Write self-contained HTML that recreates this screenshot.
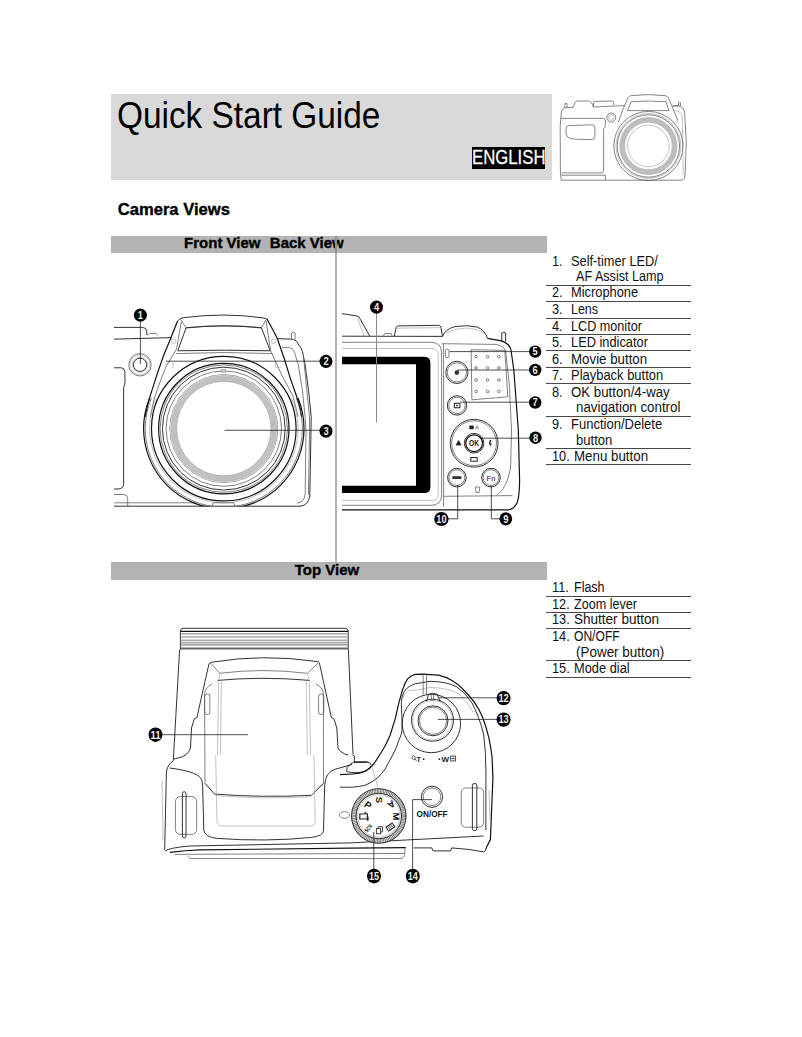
<!DOCTYPE html>
<html lang="en">
<head>
<meta charset="utf-8">
<title>Quick Start Guide</title>
<style>
html,body{margin:0;padding:0;background:#fff;}
body{width:802px;height:1037px;position:relative;overflow:hidden;font-family:"Liberation Sans",sans-serif;color:#000;}
.a{position:absolute;white-space:pre;line-height:1;}
.sx{transform-origin:0 0;}
.box{position:absolute;}
.li{position:absolute;font-size:13.8px;line-height:14px;white-space:pre;color:#111;transform:scaleX(0.925);transform-origin:0 0;}
.hr{position:absolute;left:546px;width:145px;height:1px;background:#474747;}
svg{position:absolute;left:0;top:0;overflow:visible;}
</style>
</head>
<body>
<!-- header -->
<div class="box" style="left:111px;top:94px;width:441px;height:86px;background:#d9d9d9;"></div>
<h1 id="title" class="a sx" style="margin:0;font-weight:normal;left:117.4px;top:96.8px;font-size:37px;transform:scaleX(0.902);">Quick Start Guide</h1>
<div class="box" style="left:472px;top:147px;width:73px;height:22px;background:#000;"></div>
<div id="eng" class="a sx" style="left:471.7px;top:146.5px;font-size:20.8px;color:#fff;-webkit-text-stroke:0.3px #fff;transform:scaleX(0.805);">ENGLISH</div>

<h2 id="cv" class="a" style="margin:0;left:117.7px;top:201.6px;font-size:16.6px;font-weight:bold;-webkit-text-stroke:0.35px #000;">Camera Views</h2>

<!-- section bars -->
<div class="box" style="left:111px;top:236px;width:435.5px;height:17px;background:#b3b3b3;"></div>
<div id="fv" class="a" style="left:184.1px;top:235.4px;font-size:15px;font-weight:bold;-webkit-text-stroke:0.35px #000;">Front View</div>
<div id="bv" class="a" style="left:269.8px;top:235.4px;font-size:15px;font-weight:bold;-webkit-text-stroke:0.35px #000;">Back View</div>

<div class="box" style="left:111px;top:562px;width:435.5px;height:17.5px;background:#b3b3b3;"></div>
<div id="tv" class="a" style="left:294.8px;top:561.6px;font-size:15px;font-weight:bold;-webkit-text-stroke:0.35px #000;">Top View</div>



<!-- lists -->
<div class="li" style="left:552px;top:255px;">1.</div><div class="li" style="left:570.6px;top:255px;transform:scaleX(0.9293);">Self-timer LED/</div>
<div class="li" style="left:575.8px;top:270px;transform:scaleX(0.9134);">AF Assist Lamp</div>
<div class="li" style="left:552px;top:286px;">2.</div><div class="li" style="left:570.6px;top:286px;transform:scaleX(0.9307);">Microphone</div>
<div class="li" style="left:552px;top:303px;">3.</div><div class="li" style="left:570.6px;top:303px;transform:scaleX(0.9037);">Lens</div>
<div class="li" style="left:552px;top:320px;">4.</div><div class="li" style="left:570.6px;top:320px;transform:scaleX(0.9159);">LCD monitor</div>
<div class="li" style="left:552px;top:336px;">5.</div><div class="li" style="left:570.6px;top:336px;transform:scaleX(0.9287);">LED indicator</div>
<div class="li" style="left:552px;top:353px;">6.</div><div class="li" style="left:570.6px;top:353px;transform:scaleX(0.9641);">Movie button</div>
<div class="li" style="left:552px;top:369px;">7.</div><div class="li" style="left:570.6px;top:369px;transform:scaleX(0.9385);">Playback button</div>
<div class="li" style="left:552px;top:386px;">8.</div><div class="li" style="left:570.6px;top:386px;transform:scaleX(0.9604);">OK button/4-way</div>
<div class="li" style="left:575.8px;top:401px;transform:scaleX(0.9656);">navigation control</div>
<div class="li" style="left:552px;top:418px;">9.</div><div class="li" style="left:570.6px;top:418px;transform:scaleX(0.9429);">Function/Delete</div>
<div class="li" style="left:575.8px;top:434px;transform:scaleX(0.9488);">button</div>
<div class="li" style="left:552px;top:450px;">10.</div><div class="li" style="left:573.9px;top:450px;transform:scaleX(0.9652);">Menu button</div>
<div class="li" style="left:552px;top:581px;">11.</div><div class="li" style="left:573.9px;top:581px;transform:scaleX(0.9059);">Flash</div>
<div class="li" style="left:552px;top:598px;">12.</div><div class="li" style="left:573.9px;top:598px;transform:scaleX(0.9134);">Zoom lever</div>
<div class="li" style="left:552px;top:613px;">13.</div><div class="li" style="left:573.9px;top:613px;transform:scaleX(0.9807);">Shutter button</div>
<div class="li" style="left:552px;top:630px;">14.</div><div class="li" style="left:573.9px;top:630px;transform:scaleX(0.8758);">ON/OFF</div>
<div class="li" style="left:575.8px;top:646px;transform:scaleX(0.9746);">(Power button)</div>
<div class="li" style="left:552px;top:662px;">15.</div><div class="li" style="left:573.9px;top:662px;transform:scaleX(0.9301);">Mode dial</div>
<div class="hr" style="top:285px;"></div>
<div class="hr" style="top:301px;"></div>
<div class="hr" style="top:318px;"></div>
<div class="hr" style="top:334px;"></div>
<div class="hr" style="top:350px;"></div>
<div class="hr" style="top:367px;"></div>
<div class="hr" style="top:383px;"></div>
<div class="hr" style="top:416px;"></div>
<div class="hr" style="top:448px;"></div>
<div class="hr" style="top:464px;"></div>
<div class="hr" style="top:596px;"></div>
<div class="hr" style="top:612px;"></div>
<div class="hr" style="top:628px;"></div>
<div class="hr" style="top:660px;"></div>
<div class="hr" style="top:677px;"></div>

<svg width="802" height="1037" viewBox="0 0 802 1037"><style>
.k{fill:none;stroke:#1c1c1c;stroke-width:0.9}
.kk{fill:none;stroke:#111;stroke-width:1.2}
.kt{fill:none;stroke:#222;stroke-width:0.8}
.lt{fill:none;stroke:#8a8a8a;stroke-width:1}
.g{fill:none;stroke:#555;stroke-width:0.75}
.l{fill:none;stroke:#999;stroke-width:0.6}
.h{fill:none;stroke:#505050;stroke-width:0.7}
.hl{fill:none;stroke:#909090;stroke-width:0.55}
.h2{fill:none;stroke:#9a9a9a;stroke-width:0.45}
text{font-family:"Liberation Sans",sans-serif}
</style>
<g class="hcam">
<path d="M564.5,107.6 Q561.5,109 561.2,113 L560.2,127 L560.4,172 L561.2,180.2 L682,180.2 Q684.8,179.5 685,176 L686.3,143 L684.6,112 Q683.5,107 679,106 L672.5,105.8" class="h" />
<path d="M564.5,107.6 L573,107.4 L574.8,102.8 Q576,101 578,101 L588.8,101 Q590.8,101 591.6,102.8 L593.5,107 L624.5,105.6" class="h" />
<path d="M593.6,106.8 L593.6,102.6 Q593.8,101.4 595,101.4 L612.4,101 Q613.6,101 613.7,102.4 L613.7,105" class="h" />
<path d="M565,107.4 L565,103.6 Q566,103 567,103.6 L567,107.3" class="h" />
<path d="M561,118.4 L603.4,118.4 Q605.4,118.8 605.4,121 L605.2,127.2 L603.6,128.4 L603.6,171.2 Q603.2,172.9 601.6,172.9 L561.8,172.9" class="h" />
<path d="M561.5,175.2 L605.4,175.2 L605.4,180.1" class="h" />
<path d="M568.5,125.6 Q566,126 566,129.5 L566,133.5 Q566.5,137.8 571,138.6 Q576,139.6 592.5,139.5 Q594.9,139.3 594.9,136.5 L594.9,127.2 Q594.6,124.8 592,124.8 Z" class="h" />
<circle cx="611.3" cy="117.5" r="4.5" class="h" />
<circle cx="611.3" cy="117.5" r="2.9" class="hl" />
<path d="M622.6,110.2 L628,97.6 Q629,95.8 631.5,95.6 Q648,93.6 665,95.6 Q667.6,96 668.4,98 L673.8,110.4" class="h" />
<path d="M631.2,101.7 Q648.4,100.3 666.2,101.7 L668.8,110.6 L627.5,110.6 Z" class="h" />
<path d="M622.7,110.1 L618.5,121.8 M673.6,110.1 L677.8,120.7" class="h" />
<path d="M672.6,105.9 L678.6,105.9 M678.4,105.9 L678.4,102.6 Q679.4,101.8 680.4,102.6 L680.4,106" class="h" />
<path d="M674.7,110.5 Q681.4,111.5 682.2,116 L683.3,174.8" class="hl" />
<circle cx="648.4" cy="146" r="34.6" class="h" />
<circle cx="648.4" cy="146" r="32.4" class="hl" />
<circle cx="648.4" cy="146" r="31.2" class="h" />
<circle cx="648.4" cy="146" r="26.2" fill="none" stroke="#bdbdbd" stroke-width="4.2"/>
<circle cx="648.4" cy="146" r="28.5" class="hl" />
<circle cx="648.4" cy="146" r="23.8" class="hl" />
<circle cx="648.4" cy="146" r="20.8" class="hl" />
</g>
<clipPath id="cf"><rect x="114" y="290" width="222" height="280"/></clipPath>
<g clip-path="url(#cf)">
<path d="M112,327.4 L142.6,327.4 Q146,327.6 146.6,331 L147,335.2" class="k" />
<path d="M112,339.2 L171.5,337.6" class="k" />
<path d="M148,335.4 L149.8,333.4 L156.2,333.4 L157.6,335.4" class="g" />
<circle cx="140" cy="364.8" r="11.2" class="g" />
<circle cx="140" cy="364.8" r="10.1" class="l" />
<circle cx="140" cy="364.8" r="6.6" class="k" />
<circle cx="140" cy="364.8" r="7.6" class="l" />
<path d="M112,367.8 L121.2,367.8 Q124.6,368.2 124.8,371.6 L125,381.5 Q125,385 123.6,387.5 L123.6,484.2 Q123.4,489 118,489 L112,489" class="k" />
<path d="M112,494.5 L124,494.5 Q127.7,494.8 127.7,498.6 L127.7,506" class="g" />
<path d="M112,502.8 L196,502.8" class="g" />
<path d="M112,506.2 L300,506.2" class="k" />
<path d="M177.6,321 Q174,330 169.5,341.3 L163.4,356 L157.4,373.4 L150.4,395.1 Q147,406 145.2,416.8" class="kk" />
<path d="M181.4,321.5 L176.5,349.1 L166,366.5 L160,382.1 L153.9,399.5 L150.4,416.8" class="g" />
<path d="M266.8,318.8 L273,330 L277.4,338.7 L284.3,358.7 L290.4,378.6 L296.5,396 Q300,406 301.7,416.8" class="kk" />
<path d="M266.2,321 L270.4,350 L281.7,375 L293,396 L298.2,416.8" class="g" />
<path d="M177.6,321 Q180,318 184,317.6 Q224.8,312.4 262,317.8 Q265.6,318.3 266.8,318.8" class="k" />
<path d="M180.5,319.2 L186,327.7 Q224.8,323.6 261.5,327.7 L266.2,319.6" class="g" />
<path d="M186,327.9 Q224.8,324 261.5,327.9 L270.2,350.8 Q224.8,349.6 177.8,350.8 Z" class="k" />
<path d="M176.2,353.6 Q224.8,351.4 272.2,353.6" class="g" />
<circle cx="173.6" cy="341.3" r="2.2" class="l" />
<circle cx="273.6" cy="341.3" r="2.2" class="l" />
<path d="M165.2,364.7 L170.4,361.3 M173,368 L173,362 M275.6,362 L275.6,367.3 L280.8,367.3" class="l" />
<clipPath id="cl1"><rect x="100" y="398" width="240" height="108.3"/></clipPath>
<clipPath id="cl2"><rect x="100" y="300" width="240" height="206.3"/></clipPath>
<g clip-path="url(#cl1)">
<circle cx="223.8" cy="428.6" r="80.2" class="kk" />
<circle cx="223.8" cy="428.6" r="78.6" class="g" />
<circle cx="223.8" cy="428.6" r="74.2" class="l" />
</g><g clip-path="url(#cl2)">
<circle cx="223.8" cy="428.6" r="72.3" class="kk" />
<circle cx="223.8" cy="428.6" r="65.2" class="kk" />
<circle cx="223.8" cy="428.6" r="63.7" class="g" />
<circle cx="223.8" cy="428.6" r="61.4" class="k" />
<circle cx="223.8" cy="428.6" r="57.7" class="g" />
<circle cx="223.8" cy="428.6" r="53.9" class="g" />
</g>
<circle cx="223.8" cy="428.6" r="50.6" fill="none" stroke="#d4d4d4" stroke-width="6.4"/>
<circle cx="223.8" cy="428.6" r="47.8" class="h2" />
<circle cx="223.8" cy="428.6" r="49.0" class="h2" />
<circle cx="223.8" cy="428.6" r="50.2" class="h2" />
<circle cx="223.8" cy="428.6" r="51.4" class="h2" />
<circle cx="223.8" cy="428.6" r="52.6" class="h2" />
<circle cx="223.8" cy="428.6" r="47.2" class="l" />
<rect x="221" y="369.6" width="4.8" height="3" class="l"/>
<path d="M211.8,506.2 L213,502.8 L233.6,502.8 L235,506.2" class="g" />
<path d="M277.4,338.7 L291.3,339.1 Q297,340 298.2,343.9 Q301.5,348 302.5,351.7 L305.1,364.7 L308.6,390.8 L311.2,416.8 L311,430 L309.8,496 Q308.5,505.6 299.6,506.2" class="k" />
<path d="M303.4,356 L306.9,390.8 L309.5,416.8 L309.6,430 L308.4,495" class="g" />
<path d="M281.7,347.4 L289.5,347.4 Q294,349 294.7,352.6 L298.2,364.7 L302.5,390.8 L305.1,416.8 L306,430 L305.2,494 Q304,503 297,503" class="g" />
<path d="M291.5,339.2 L291.5,333 Q293.3,331.2 295.1,333 L295.1,339.6" class="g" />
<path d="M140.4,321 L140.4,364" class="kt" />
<path d="M166,361.2 L320,361.2" class="kt" />
<path d="M224.6,430.3 L320,430.3" class="kt" />
</g>
<ellipse cx="140.4" cy="315.2" rx="6.5" ry="6.6" fill="#000"/>
<text x="140.4" y="319.00" text-anchor="middle" font-size="10.5" font-weight="bold" fill="#f2f2f2" textLength="5.2" lengthAdjust="spacingAndGlyphs">1</text>
<ellipse cx="326" cy="361.3" rx="6.5" ry="6.6" fill="#000"/>
<text x="326" y="365.10" text-anchor="middle" font-size="10.5" font-weight="bold" fill="#f2f2f2" textLength="5.2" lengthAdjust="spacingAndGlyphs">2</text>
<ellipse cx="326" cy="431.2" rx="6.5" ry="6.6" fill="#000"/>
<text x="326" y="435.00" text-anchor="middle" font-size="10.5" font-weight="bold" fill="#f2f2f2" textLength="5.2" lengthAdjust="spacingAndGlyphs">3</text>
<clipPath id="cb"><rect x="342" y="290" width="204" height="240"/></clipPath>
<g clip-path="url(#cb)">
<path d="M340,313.2 L358.6,316.3 L369.8,336.2" class="k" />
<path d="M357.3,317.6 L364.2,336.2" class="l" />
<path d="M340,336.2 L442.7,336.4" class="k" />
<path d="M383.3,336.2 L384.6,333.6 L391,333.4 L392.3,336.2" class="g" />
<path d="M394.3,336.2 L396.2,327.2 Q396.8,325.9 398.6,325.9 L438.8,325.3 Q440.4,325.5 440.9,327.2 L442.4,336.2" class="k" />
<path d="M396,328.2 L441,327.6" class="l" />
<path d="M442.7,336.2 Q445,329.2 455,326.6 Q467,324.6 477,327 Q484.8,329.8 487.6,338.4" class="k" />
<path d="M446,333 Q456,328.2 466,328 Q478,328.6 485,334" class="l" />
<path d="M487.6,338.4 L500.3,340.6 Q509.6,343.2 511,350 L513.8,370 L518.3,430 L519.6,480 Q519.4,502 515.4,505.4 Q513,509.8 507.6,509.8 L340,509.8" class="kk" />
<path d="M501.8,341.2 L501.8,333 Q503.7,331.4 505.6,333 L505.6,341.6" class="k" />
<path d="M442,343.7 L496,344.4 Q503.6,346 505.6,350.4 L509.3,384.8 L511.5,430 L510.6,468 Q507,488 497.3,494.8" class="g" />
<path d="M340,342.3 L430.7,342.3 Q441.6,342.4 441.6,352.6 L441.6,495 Q441.6,505.3 431,505.3 L340,505.3" class="g" />
<path d="M340,348.5 L432,348.5 Q438.2,348.6 438.2,354.2 L438.2,494.8 Q438.2,500.4 432.4,500.4 L340,500.4" class="l" />
<path d="M340,356.7 L424.4,356.7 Q430.4,356.7 430.4,362.7 L430.4,487 Q430.4,493 424.4,493 L340,493 Z M340,364.3 L340,485.7 L416,485.7 L416,364.3 Z" fill="#000" fill-rule="evenodd"/>
<path d="M443.6,344 L443.6,506.8" class="g" />
<path d="M444,496.3 L512.3,495.6" class="g" />
<rect x="445.4" y="349.3" width="3.6" height="8.3" rx="1.4" class="g"/>
<path d="M471.1,349.7 L504.8,350.4 L507.8,396.8 L471.9,399.8 Z" class="g" />
<circle cx="476.1" cy="356.7" r="1.3" class="g" />
<circle cx="476.1" cy="367.9" r="1.3" class="g" />
<circle cx="476.1" cy="379.9" r="1.3" class="g" />
<circle cx="476.1" cy="391.5" r="1.3" class="g" />
<circle cx="487.6" cy="356.7" r="1.3" class="g" />
<circle cx="487.6" cy="367.9" r="1.3" class="g" />
<circle cx="487.6" cy="379.9" r="1.3" class="g" />
<circle cx="487.6" cy="391.5" r="1.3" class="g" />
<circle cx="498.8" cy="356.7" r="1.3" class="g" />
<circle cx="498.8" cy="367.9" r="1.3" class="g" />
<circle cx="498.8" cy="379.9" r="1.3" class="g" />
<circle cx="498.8" cy="391.5" r="1.3" class="g" />
<circle cx="456.9" cy="372.4" r="11.1" class="k" />
<circle cx="456.9" cy="372.4" r="9.6" class="g" />
<circle cx="456.9" cy="372.6" r="2.3" fill="#333"/>
<circle cx="457" cy="405.4" r="9.7" class="k" />
<circle cx="457" cy="405.4" r="8.2" class="g" />
<rect x="454.3" y="403.3" width="5.6" height="4.4" fill="none" stroke="#333" stroke-width="1.1"/>
<path d="M456.3,404.2 L458.6,405.5 L456.3,406.8 Z" fill="#333"/>
<circle cx="474.1" cy="443.2" r="23.9" class="k" />
<circle cx="474.1" cy="443.2" r="22.4" class="g" />
<circle cx="474.1" cy="443.2" r="9.8" class="k" />
<circle cx="474.1" cy="443.2" r="8.4" class="kk" />
<text x="474.1" y="446.4" text-anchor="middle" font-size="8.6" font-weight="bold" fill="#111" textLength="10" lengthAdjust="spacingAndGlyphs">OK</text>
<rect x="469.2" y="425.6" width="4.6" height="3.6" rx="1" fill="#222"/>
<path d="M475.5,429.2 L477,426 L478.6,429.2" class="g" />
<path d="M456.3,444.8 L458.6,440.6 L460.9,444.8 Z M455.8,444.8 L461.4,444.8" fill="#222" stroke="#222" stroke-width="0.8"/>
<path d="M489.8,440 L491.4,440 L490.3,443.4 L491.9,443.4 L489.6,447.4 L490.2,444.4 L488.8,444.4 Z" fill="#222"/>
<rect x="470.8" y="457.6" width="6.4" height="3.6" fill="none" stroke="#222" stroke-width="1"/>
<circle cx="456.9" cy="477.6" r="9.3" class="k" />
<circle cx="456.9" cy="477.6" r="7.9" class="g" />
<rect x="452.4" y="476.2" width="9" height="2.8" fill="#333"/>
<circle cx="491" cy="477.6" r="9.3" class="k" />
<circle cx="491" cy="477.6" r="7.9" class="g" />
<text x="491" y="480.6" text-anchor="middle" font-size="7.6" fill="#111">Fn</text>
<path d="M475.4,487 L479.8,487 L479.2,492.4 L476,492.4 Z" class="g" />
<path d="M449.5,351.6 L530,351.6" class="kt" />
<path d="M457,370 L530,370" class="kt" />
<path d="M460,402.2 L530,402.2" class="kt" />
<path d="M479.4,438.2 L530,438.2" class="kt" />
<path d="M491.3,486 L491.3,518.8 L500,518.8" class="kt" />
<path d="M457.7,484.6 L457.7,518.8 L447,518.8" class="kt" />
<path d="M376.5,313 L376.5,422.6" class="lt" />
</g>
<ellipse cx="376.5" cy="307.1" rx="6.5" ry="6.6" fill="#000"/>
<text x="376.5" y="310.90" text-anchor="middle" font-size="10.5" font-weight="bold" fill="#f2f2f2" textLength="5.2" lengthAdjust="spacingAndGlyphs">4</text>
<ellipse cx="535.2" cy="351.6" rx="6.2" ry="6.2" fill="#000"/>
<text x="535.2" y="355.40" text-anchor="middle" font-size="10.5" font-weight="bold" fill="#f2f2f2" textLength="5.2" lengthAdjust="spacingAndGlyphs">5</text>
<ellipse cx="535.2" cy="369.9" rx="6.2" ry="6.2" fill="#000"/>
<text x="535.2" y="373.70" text-anchor="middle" font-size="10.5" font-weight="bold" fill="#f2f2f2" textLength="5.2" lengthAdjust="spacingAndGlyphs">6</text>
<ellipse cx="535.2" cy="402.5" rx="6.2" ry="6.2" fill="#000"/>
<text x="535.2" y="406.30" text-anchor="middle" font-size="10.5" font-weight="bold" fill="#f2f2f2" textLength="5.2" lengthAdjust="spacingAndGlyphs">7</text>
<ellipse cx="535.5" cy="437.7" rx="6.2" ry="6.2" fill="#000"/>
<text x="535.5" y="441.50" text-anchor="middle" font-size="10.5" font-weight="bold" fill="#f2f2f2" textLength="5.2" lengthAdjust="spacingAndGlyphs">8</text>
<ellipse cx="505.8" cy="518.8" rx="6.4" ry="6.6" fill="#000"/>
<text x="505.8" y="522.60" text-anchor="middle" font-size="10.5" font-weight="bold" fill="#f2f2f2" textLength="5.2" lengthAdjust="spacingAndGlyphs">9</text>
<ellipse cx="441.4" cy="519" rx="7.2" ry="7" fill="#000"/>
<text x="441.4" y="522.80" text-anchor="middle" font-size="10.5" font-weight="bold" fill="#f2f2f2" textLength="10.2" lengthAdjust="spacingAndGlyphs">10</text>
<g>
<path d="M180.4,649.8 L180.4,631.2 Q180.8,628.4 183,628.3 L345.6,628.3 Q347.8,628.4 348.2,631.2 L348.2,649.8" class="k" />
<path d="M180.4,631.4 L348.2,631.4" class="kk" />
<path d="M180.8,633.7 L347.8,633.7" stroke="#a8a8a8" stroke-width="1.6" fill="none"/>
<path d="M180.8,637.0 L347.8,637.0" stroke="#a8a8a8" stroke-width="1.6" fill="none"/>
<path d="M180.8,640.2 L347.8,640.2" stroke="#a8a8a8" stroke-width="1.6" fill="none"/>
<path d="M180.8,642.6 L347.8,642.6" stroke="#a8a8a8" stroke-width="1.6" fill="none"/>
<path d="M180.8,644.9 L347.8,644.9" stroke="#a8a8a8" stroke-width="1.6" fill="none"/>
<path d="M180.8,648.6 L347.8,648.6" stroke="#666" stroke-width="2" fill="none"/>
<path d="M179.6,649.6 L173.3,760.7" class="k" />
<path d="M348.4,649.6 L353,754.3" class="k" />
<path d="M200.8,700 L209,663.8 Q210.5,662.4 212,662.2 Q262.4,653.6 316.9,661.5 Q318.8,662 319.4,663 L327.5,700" class="k" />
<path d="M210.6,663.2 L219.7,673.3 Q262.4,667.8 307.4,673.3 L318.6,662.6" class="g" />
<path d="M217.4,680.4 Q262.4,676.2 309.8,680.4" class="k" />
<path d="M219.7,673.3 L218.6,681.6 L217.4,755" class="l" />
<path d="M221.4,681 L220.4,755" class="l" />
<path d="M307.4,673.3 L309.4,681.6 L310.6,755" class="l" />
<path d="M306.2,681 L307.4,755" class="l" />
<path d="M212,684 Q205,687 204.6,694 L205,783.4 M316,684 Q323,687 323.4,694 L323.5,783.4" class="g" />
<path d="M205,783.4 L214.5,794.1 Q262.4,797.8 311.6,795.3 L323.5,783.4" class="k" />
<path d="M207,784 L216,795.6 Q262.4,799.4 310.5,796.8 L321.5,784" class="l" />
<rect x="204.6" y="694" width="5.2" height="20.5" rx="2.4" class="g"/>
<rect x="318.6" y="694" width="5.2" height="20.5" rx="2.4" class="g"/>
<path d="M200.8,700 L197,717.5 L194.3,718.8 L191.5,728 L190.5,748 Q188,756 178,758 L174,759" class="k" />
<path d="M327.5,700 L331.4,717.5 L334,718.8 L336.8,728 L338,748 Q340.5,753 348,755" class="k" />
<path d="M173.3,760.7 L169.5,764 Q167,767 166.4,772 L166,790.5 L164.7,849.8" class="k" />
<path d="M169.5,768 Q175,768.5 183.7,770.4 Q195,773 199.1,776.3 Q202.6,779 202.6,785 L203.8,830 Q204.5,837 216.9,838.4 Q266.6,842 311.6,837.4 Q323,836 323.5,830.8 L324.7,785 Q325.5,772 335.3,769.2 L352,764.5" class="k" />
<path d="M215.7,755 L216.9,821.3 Q217.5,826 222,826 L309,826 Q315,826 315.2,821.3 L314,755" class="l" />
<rect x="175.4" y="796.5" width="21.3" height="37.9" rx="5" class="g"/>
<rect x="182.4" y="791.7" width="3.6" height="46.2" rx="1.8" class="k"/>
<path d="M165,851 Q170,847.6 190,846 L350,842.9 L483.6,836" class="k" />
<path d="M170,852.4 Q185,850.4 200,849.9 L350,848.1 L405.8,847.6" class="kk" />
<path d="M175,854.4 L350,853.6 L404.8,853.5" class="g" />
<path d="M187.4,856 L190,858.6 L400,858.6 Q404.8,858 404.8,853.5 L404.8,847.6" class="g" />
<path d="M413.8,847.9 L431.8,847.9 L433,850.9 L450.5,850.9 L451.7,847.9 Q470,849 483.6,851.9 Q486.4,851.4 486,848" class="k" />
<path d="M162,780 L163,840" class="l" />
<path d="M346.6,771.4 Q346,767 350,764.6 L353.8,762.1 L367.6,762.1 Q371.8,763.2 371.3,765.3 Q368,771 360,772.4 Q351,773.2 346.6,771.4 Z" class="k" />
<path d="M353.8,762.1 L367.6,762.1" class="kk" />
<path d="M352.5,755 L354.4,756 L354.4,762" class="k" />
<path d="M340,774.7 L352.5,774 Q360,773.5 365,771.5 Q370,768.5 373.8,764 L382.6,750.2 Q387,743 390.1,735.2 L395.2,718.9 L398.9,702.6 L401.4,693.8 Q402.5,689.5 403.9,686.3 Q405.5,681.5 407.7,678.8 Q411,675.5 415.2,674.4 L422.4,674.2 L438.6,675.2 Q446,677 451.6,680.3 Q458,684 463,689.2 Q469,695 474.3,702.1 Q479,709 482.4,716.7 Q486,726 488.9,737.8 Q491,748 492.1,757.2 L492.9,778.3 L490.4,839.5 L485.9,848.5" class="kk" />
<path d="M340,787.2 L352.5,787.2 Q360,786.5 365,785.3 Q372,782.5 377.6,777.8 Q382,773.5 385.1,769 L392.6,755.2 Q397,747 398.9,740.2 Q401.5,735 402,730.2 L402,717.6 Q401.2,708 401.4,702.6 Q401.5,698 402.7,695.1 Q404,691 406.4,688.8 Q410,685.2 415.2,683.8 L430,681.3 Q447,681.6 456.7,686.9 Q466,693 472,703 Q479,716 483.6,734 Q486,752 485.9,772.2 L485.9,830" class="k" />
<path d="M402.2,700 Q404,692.5 407.7,691 Q412,689.6 417.7,690.1 L430,687.4 Q449,688 459,694 Q468,702 473,712" class="l" />
<path d="M423.2,673.8 L423.2,694.6 M426.6,673.8 L426.6,694.4" class="g" />
<path d="M371.3,765.3 L378.9,790.3" class="l" />
<circle cx="431.4" cy="723.5" r="29.2" class="k" />
<circle cx="432.5" cy="720.2" r="21.0" class="k" />
<circle cx="432.5" cy="720.2" r="19.7" class="l" />
<circle cx="433" cy="720.8" r="15.0" class="k" />
<circle cx="433" cy="720.8" r="13.6" class="g" />
<path d="M426.6,701.4 L428.6,694.2 Q432,692.6 437,694.2 L440.2,701.6" class="k" />
<path d="M431.4,694 L431.4,700.4 L433.6,700.4 L433.6,694" class="g" />
<circle cx="413.6" cy="757.6" r="1.7" fill="none" stroke="#333" stroke-width="0.8"/><path d="M414.8,758.8 L416.4,760.8" stroke="#333" stroke-width="1"/>
<text x="416.6" y="761.6" font-size="7.2" font-weight="bold" fill="#222">T</text><circle cx="423.6" cy="759.2" r="0.9" fill="#222"/>
<circle cx="439.4" cy="759.2" r="0.9" fill="#222"/><text x="441.6" y="761.6" font-size="7.2" font-weight="bold" fill="#222" textLength="7.6" lengthAdjust="spacingAndGlyphs">W</text>
<rect x="450.6" y="756" width="5" height="5" fill="none" stroke="#333" stroke-width="0.8"/><path d="M450.6,758.5 L455.6,758.5 M453.1,756 L453.1,761" stroke="#333" stroke-width="0.6"/>
<circle cx="432" cy="796.8" r="10.6" class="k" />
<circle cx="432" cy="796.8" r="8.8" class="g" />
<text x="416.6" y="817.4" font-size="9.4" font-weight="bold" fill="#111" textLength="31" lengthAdjust="spacingAndGlyphs">ON/OFF</text>
<rect x="461.2" y="788" width="22.4" height="39.2" rx="4.5" class="g"/>
<rect x="472.4" y="783.4" width="4.4" height="47.2" rx="2" class="k"/>
<path d="M489,790 L490,820" class="l" />
<circle cx="378.8" cy="816" r="25" fill="none" stroke="#dadada" stroke-width="4.6"/>
<circle cx="378.8" cy="816" r="25" fill="none" stroke="#707070" stroke-width="4.6" stroke-dasharray="0.7 0.9"/>
<circle cx="378.8" cy="816" r="27.3" class="k" />
<circle cx="378.8" cy="816" r="22.7" class="k" />
<circle cx="378.8" cy="816" r="21.2" class="l" />
<ellipse cx="344.5" cy="815" rx="5" ry="3.4" class="g"/>
<text x="379.0" y="799.8" font-size="9.5" font-weight="bold" fill="#111" text-anchor="middle" dominant-baseline="central" transform="rotate(90 379.0 799.8)">S</text>
<text x="368.0" y="805.0" font-size="9.5" font-weight="bold" fill="#111" text-anchor="middle" dominant-baseline="central" transform="rotate(35 368.0 805.0)">P</text>
<text x="391.4" y="804.6" font-size="9.5" font-weight="bold" fill="#111" text-anchor="middle" dominant-baseline="central" transform="rotate(145 391.4 804.6)">A</text>
<text x="396.0" y="816.5" font-size="9.5" font-weight="bold" fill="#111" text-anchor="middle" dominant-baseline="central" transform="rotate(90 396.0 816.5)">M</text>
<text x="368.4" y="828.2" font-size="5.8" font-weight="bold" fill="#111" text-anchor="middle" dominant-baseline="central" transform="rotate(-50 368.4 828.2)" textLength="8.5" lengthAdjust="spacingAndGlyphs">SCN</text>
<path d="M359.8,814 L364.2,814 L365.4,812.4 L366.6,814 L367.4,814 L367.4,819 L359.8,819 Z" fill="none" stroke="#222" stroke-width="1.2"/>
<path d="M366.8,816.6 L368.6,816.6 L368.6,820.6 L366.8,820.6 Z" fill="#222"/>
<rect x="376.4" y="828.4" width="4.2" height="5.4" fill="none" stroke="#333" stroke-width="0.9"/><path d="M378.2,828.4 L378.2,826.6 L382.4,826.6 L382.4,832 L380.6,832" fill="none" stroke="#333" stroke-width="0.9"/>
<g transform="rotate(-35 390.4 827)"><rect x="386.6" y="824.6" width="7.6" height="4.8" fill="none" stroke="#222" stroke-width="1"/><path d="M388.6,824.6 L388.6,829.4 M390.4,824.6 L390.4,829.4 M392.2,824.6 L392.2,829.4" stroke="#222" stroke-width="0.7"/></g>
<path d="M248,734.7 L162,734.7" class="kt" />
<path d="M438.6,697.8 L497,697.8" class="kt" />
<path d="M437.8,719.4 L497,719.4" class="kt" />
<path d="M432,799.6 L412.6,799.6 L412.6,869" class="kt" />
<path d="M373.8,832 L373.8,869" class="kt" />
</g>
<ellipse cx="155.5" cy="734.7" rx="7" ry="7.2" fill="#000"/>
<text x="155.5" y="738.50" text-anchor="middle" font-size="10.5" font-weight="bold" fill="#f2f2f2" textLength="10.2" lengthAdjust="spacingAndGlyphs">11</text>
<ellipse cx="503.6" cy="698.1" rx="7" ry="7.2" fill="#000"/>
<text x="503.6" y="701.90" text-anchor="middle" font-size="10.5" font-weight="bold" fill="#f2f2f2" textLength="10.2" lengthAdjust="spacingAndGlyphs">12</text>
<ellipse cx="503.6" cy="719.6" rx="7" ry="7.2" fill="#000"/>
<text x="503.6" y="723.40" text-anchor="middle" font-size="10.5" font-weight="bold" fill="#f2f2f2" textLength="10.2" lengthAdjust="spacingAndGlyphs">13</text>
<ellipse cx="412.8" cy="876.1" rx="7" ry="7.4" fill="#000"/>
<text x="412.8" y="879.90" text-anchor="middle" font-size="10.5" font-weight="bold" fill="#f2f2f2" textLength="10.2" lengthAdjust="spacingAndGlyphs">14</text>
<ellipse cx="374" cy="876.1" rx="7" ry="7.4" fill="#000"/>
<text x="374" y="879.90" text-anchor="middle" font-size="10.5" font-weight="bold" fill="#f2f2f2" textLength="10.2" lengthAdjust="spacingAndGlyphs">15</text>
</svg>
<div class="box" style="left:335px;top:236px;width:2px;height:17px;background:#8e8e8e;"></div>
<div class="box" style="left:335px;top:253px;width:2px;height:309px;background:#b4b4b4;"></div>
</body>
</html>
